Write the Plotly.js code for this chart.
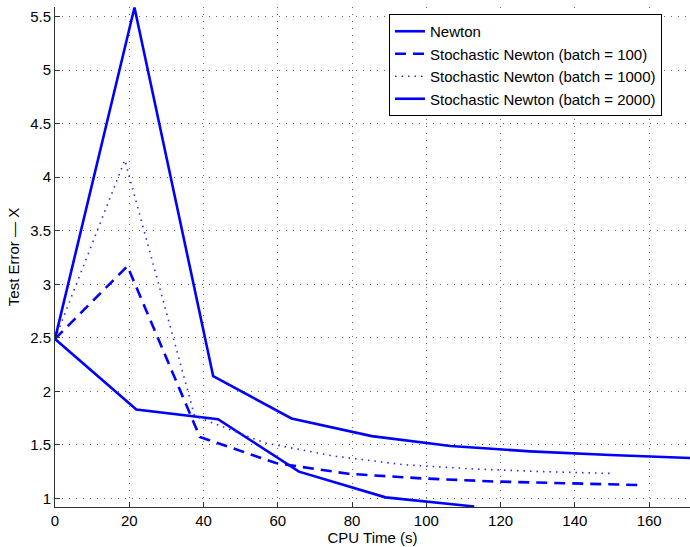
<!DOCTYPE html>
<html>
<head>
<meta charset="utf-8">
<script src="https://cdn.plot.ly/plotly-3.0.1.min.js"></script>
<style>html,body{margin:0;padding:0;background:#fff;}#chart{width:690px;height:547px;}</style>
</head>
<body>
<div id="chart"></div>
<script>
// Newton
const newtonX = [0, 21.9, 43.9, 65.7, 89.0, 112.9];
const newtonY = [2.49, 1.83, 1.74, 1.25, 1.01, 0.925];
// Stochastic Newton (batch = 100)
const b100X = [0, 19.5, 39.0, 59.5, 79.0, 99.0, 118.5, 138.0, 157.5];
const b100Y = [2.49, 3.17, 1.575, 1.33, 1.23, 1.187, 1.158, 1.14, 1.125];
// Stochastic Newton (batch = 1000)
const b1000X = [0, 18.8, 37.6, 56.4, 75.2, 94.0, 112.8, 131.6, 150.4];
const b1000Y = [2.49, 4.16, 1.77, 1.52, 1.395, 1.315, 1.275, 1.25, 1.233];
// Stochastic Newton (batch = 2000)
const b2000X = [0, 21.4, 42.6, 63.7, 85.3, 106.5, 128.0, 149.5, 171.0];
const b2000Y = [2.49, 5.585, 2.142, 1.747, 1.582, 1.49, 1.44, 1.405, 1.378];

const names = ["Newton", "Stochastic Newton (batch = 100)", "Stochastic Newton (batch = 1000)", "Stochastic Newton (batch = 2000)"];
const xTicks = [0, 20, 40, 60, 80, 100, 120, 140, 160];
const yTicks = [1, 1.5, 2, 2.5, 3, 3.5, 4, 4.5, 5, 5.5];

const blue = "#0000ff";
const traces = [
  {x: newtonX, y: newtonY, name: names[0], mode: "lines", line: {color: blue, width: 2.6}},
  {x: b100X, y: b100Y, name: names[1], mode: "lines", line: {color: blue, width: 2.6, dash: "11px,7px"}},
  {x: b1000X, y: b1000Y, name: names[2], mode: "lines", line: {color: "#2a2aff", width: 1.6, dash: "1.5px,5px"}},
  {x: b2000X, y: b2000Y, name: names[3], mode: "lines", line: {color: blue, width: 2.6}}
];

const fontFam = "Liberation Sans, Arial, sans-serif";
const layout = {
  width: 690, height: 547,
  margin: {l: 55, r: 0, t: 7, b: 40},
  paper_bgcolor: "#fff", plot_bgcolor: "#fff",
  font: {family: fontFam, size: 15, color: "#000"},
  showlegend: true,
  legend: {
    x: 0.526, y: 0.986, xanchor: "left", yanchor: "top",
    bgcolor: "#fff", bordercolor: "#000", borderwidth: 1,
    font: {family: fontFam, size: 15, color: "#000"},
    tracegroupgap: 0
  },
  xaxis: {
    range: [0, 171], tickvals: xTicks, ticktext: xTicks.map(String),
    ticks: "inside", ticklen: 5, tickcolor: "#333",
    showline: true, linecolor: "#333", linewidth: 1,
    showgrid: true, gridcolor: "#666", griddash: "1px,6px", gridwidth: 1,
    zeroline: false, mirror: false,
    title: {text: "CPU Time (s)", font: {family: fontFam, size: 15}, standoff: 3},
    tickfont: {family: fontFam, size: 15}
  },
  yaxis: {
    range: [0.92, 5.59], tickvals: yTicks, ticktext: yTicks.map(String),
    ticks: "inside", ticklen: 5, tickcolor: "#333",
    showline: true, linecolor: "#333", linewidth: 1,
    showgrid: true, gridcolor: "#666", griddash: "1px,6px", gridwidth: 1,
    zeroline: false, mirror: false,
    title: {text: "Test Error — X", font: {family: fontFam, size: 15}, standoff: 6},
    tickfont: {family: fontFam, size: 15}
  }
};
Plotly.newPlot("chart", traces, layout, {displayModeBar: false, staticPlot: true});
</script>
</body>
</html>
